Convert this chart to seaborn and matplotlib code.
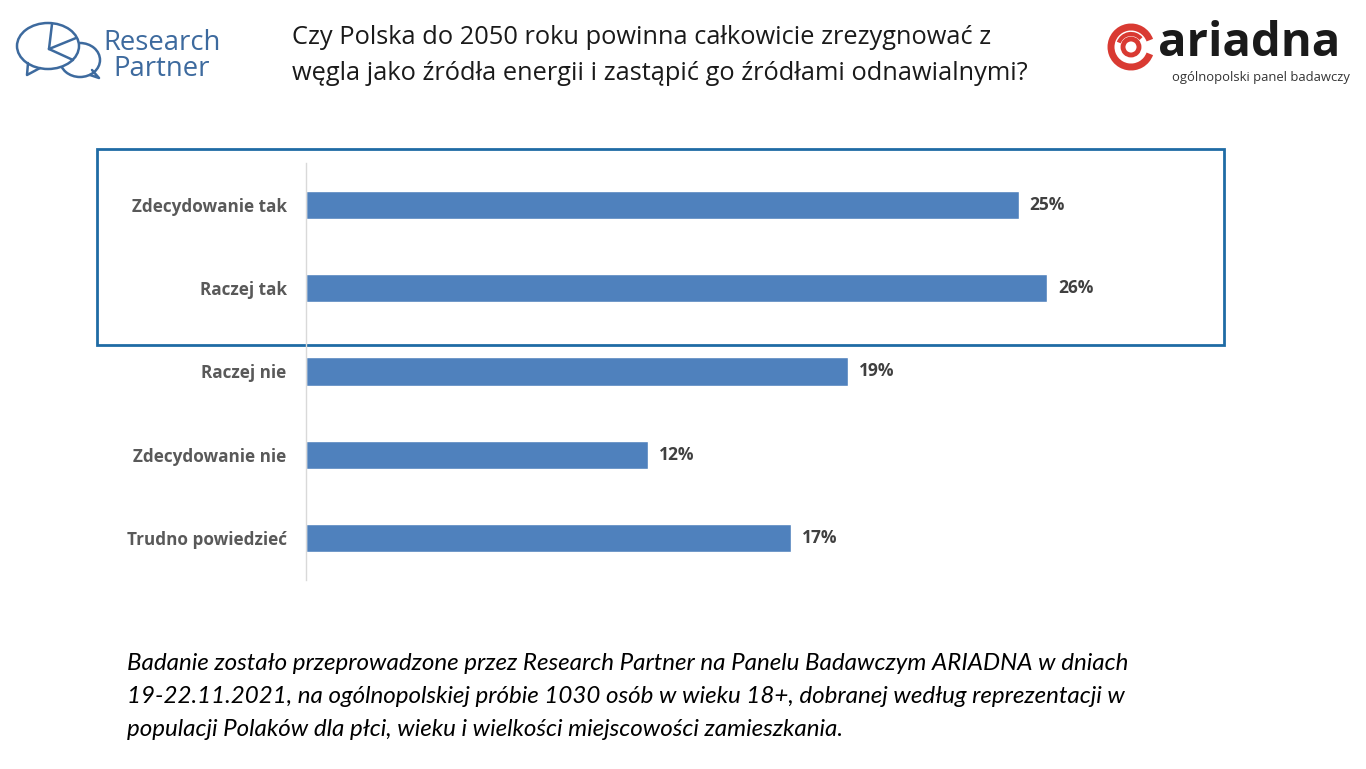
import matplotlib
matplotlib.use("Agg")
import matplotlib.pyplot as plt
import matplotlib.patches as mpatches
import seaborn as sns
import pandas as pd

# survey answers and shares (%)
categories = ["Zdecydowanie tak", "Raczej tak", "Raczej nie",
              "Zdecydowanie nie", "Trudno powiedzieć"]
shares = [25, 26, 19, 12, 17]

title_lines = ["Czy Polska do 2050 roku powinna całkowicie zrezygnować z",
               "węgla jako źródła energii i zastąpić go źródłami odnawialnymi?"]
footer_lines = [
    "Badanie zostało przeprowadzone przez Research Partner na Panelu Badawczym ARIADNA w dniach",
    "19-22.11.2021, na ogólnopolskiej próbie 1030 osób w wieku 18+, dobranej według reprezentacji w",
    "populacji Polaków dla płci, wieku i wielkości miejscowości zamieszkania.",
]

sns.set_style("white")
plt.rcParams['font.family'] = ['Open Sans', 'DejaVu Sans']

W, H = 1366, 769
fig = plt.figure(figsize=(W / 100, H / 100), dpi=100)

# overlay in pixel coordinates for the decorations
deco = fig.add_axes([0, 0, 1, 1])
deco.set_xlim(0, W)
deco.set_ylim(H, 0)
deco.axis('off')

# main bar chart
ax = fig.add_axes([306 / W, 1 - 580 / H, 855 / W, 417 / H])
df = pd.DataFrame({'answer': categories, 'share': shares})
sns.barplot(data=df, x='share', y='answer', color='#4f81bd', width=0.34,
            saturation=1, ax=ax)
ax.set_xlim(0, 30)
ax.set_ylim(4.5, -0.5)
ax.set_xlabel('')
ax.set_ylabel('')
ax.set_xticks([])
for side in ['top', 'right', 'bottom']:
    ax.spines[side].set_visible(False)
ax.spines['left'].set_color('#d9d9d9')
ax.spines['left'].set_linewidth(1)
ax.tick_params(axis='y', length=0, pad=14)
for lbl in ax.get_yticklabels():
    lbl.set_fontsize(12.3)
    lbl.set_fontweight('bold')
    lbl.set_color('#595959')
ax.bar_label(ax.containers[0], labels=[f"{v}%" for v in shares],
             padding=8, fontsize=12.5, fontweight='bold', color='#404040')
ax.patch.set_alpha(0)

# highlight box around the "yes" answers
deco.add_patch(mpatches.Rectangle((97, 149), 1127, 196, fill=False,
                                  edgecolor='#1f6ba5', linewidth=2))

# question title
for i, line in enumerate(title_lines):
    deco.text(292, 38 + i * 35, line, fontsize=18.3, color='#1a1a1a',
              va='center', ha='left')

# footer note
for i, line in enumerate(footer_lines):
    deco.text(127, 664 + i * 32.5, line, fontsize=17.4, style='italic',
              color='black', va='center', ha='left', family=['Lato', 'DejaVu Sans'])

# Research Partner logo
rp = '#3d6a9e'
deco.add_patch(mpatches.Ellipse((80, 60), 40, 34, facecolor='white',
                                edgecolor=rp, linewidth=1.8, zorder=2))
deco.add_patch(mpatches.Ellipse((48, 46), 62, 46, facecolor='white',
                                edgecolor=rp, linewidth=1.8, zorder=3))
deco.plot([49, 52], [49, 24], color=rp, lw=1.8, zorder=4)
deco.plot([49, 76], [49, 38], color=rp, lw=1.8, zorder=4)
deco.plot([49, 73], [49, 60], color=rp, lw=1.8, zorder=4)
deco.plot([28, 27, 40], [63, 75, 68], color=rp, lw=1.8, zorder=4)
deco.plot([92, 99, 90], [70, 78, 75], color=rp, lw=1.8, zorder=4)
deco.text(162, 56, "Research\nPartner", fontsize=19.8, color=rp, va='center',
          ha='center', multialignment='center', linespacing=0.9)

# ariadna logo
red = '#d93a32'
deco.add_patch(mpatches.Arc((1131, 47), 40, 40, theta1=20, theta2=340,
                            color=red, lw=5))
deco.add_patch(mpatches.Circle((1131, 47), 8, fill=False, edgecolor=red, lw=3.5))
deco.add_patch(mpatches.Arc((1131, 47), 26, 26, theta1=200, theta2=320,
                            color=red, lw=3))
deco.text(1158, 44, "ariadna", fontsize=34, fontweight='bold', color='#1a1a1a',
          va='center', ha='left')
deco.text(1350, 77, "ogólnopolski panel badawczy", fontsize=9.4, color='#333333',
          va='center', ha='right')

fig.savefig("out.png", dpi=100)
